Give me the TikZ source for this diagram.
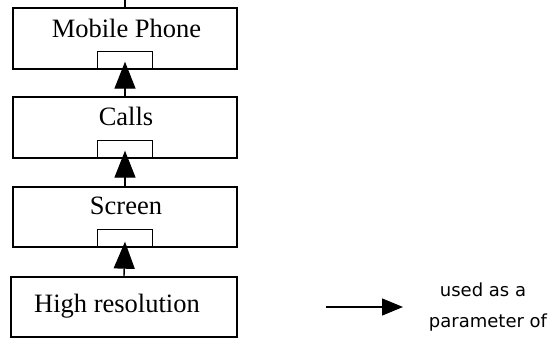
\documentclass[tikz,border=0pt]{standalone}
\usepackage{fontspec}
\setmainfont{Liberation Serif}
\newfontfamily\legendfont{DejaVu Sans}
\usetikzlibrary{arrows.meta}
\begin{document}
\begin{tikzpicture}[x=1pt,y=-1pt,
  classbox/.style={draw,line width=1.4pt,minimum width=224pt,minimum height=61pt,inner sep=0pt},
  port/.style={draw,line width=1.2pt,minimum width=55pt,minimum height=18pt,inner sep=0pt,anchor=south},
  boxtext/.style={anchor=base,inner sep=0pt,font=\fontsize{26.5}{31}\selectfont},
  uses/.style={line width=1.4pt,-{Triangle[width=21pt,length=27pt]}},
  legendtext/.style={anchor=base,inner sep=0pt,font=\legendfont\fontsize{18}{22}\selectfont}]
  \useasboundingbox (0,0) rectangle (550,338);

  % class boxes, top to bottom
  \node[classbox] (mp) at (125,38.5) {};
  \node[classbox] (calls) at (125,127.5) {};
  \node[classbox,minimum height=60pt] (screen) at (125,217) {};
  \node[classbox,minimum width=226pt,minimum height=60pt] (hr) at (124,307) {};

  % captions
  \node[boxtext] (mpt) at (126.5,37) {Mobile Phone};
  \node[boxtext] (callst) at (126,125) {Calls};
  \node[boxtext] (screent) at (126,214) {Screen};
  \node[boxtext] (hrt) at (117,312) {High resolution};

  % parameter ports on the lower edge of each box
  \node[port] (mpport) at (mp.south) {};
  \node[port] (callsport) at (calls.south) {};
  \node[port] (screenport) at (screen.south) {};

  % links
  \coordinate (top) at (125,0);
  \draw[line width=1.3pt] (top) -- (mp.north);
  \draw[uses] (calls.north) -- ([yshift=8pt]mpport.south);
  \draw[uses] (screen.north) -- ([yshift=8pt]callsport.south);
  \draw[uses] (hr.north) -- ([yshift=6pt]screenport.south);

  % legend
  \coordinate (ls) at (326,307);
  \coordinate (le) at (403,307);
  \draw[line width=1.4pt,-{Triangle[width=17pt,length=21pt]}] (ls) -- (le);
  \node[legendtext] (l1) at (483,296) {used as a};
  \node[legendtext] (l2) at (488,327) {parameter of};
\end{tikzpicture}
\end{document}
